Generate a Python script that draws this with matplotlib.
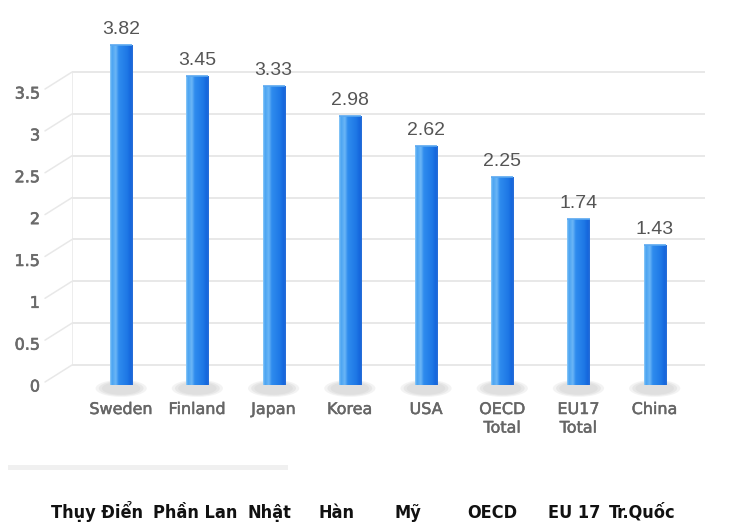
import numpy as np
import matplotlib
matplotlib.use("Agg")
import matplotlib.pyplot as plt
import matplotlib.patheffects as pe
from matplotlib.colors import LinearSegmentedColormap
from matplotlib.patches import Ellipse, Rectangle

countries = ["Sweden", "Finland", "Japan", "Korea", "USA",
             "OECD\nTotal", "EU17\nTotal", "China"]
values = [3.82, 3.45, 3.33, 2.98, 2.62, 2.25, 1.74, 1.43]
names_vi = ["Thụy Điển", "Phần Lan", "Nhật", "Hàn", "Mỹ",
            "OECD", "EU 17", "Tr.Quốc"]
yticks = [0, 0.5, 1, 1.5, 2, 2.5, 3, 3.5]
ytick_labels = ["0", "0.5", "1", "1.5", "2", "2.5", "3", "3.5"]

W, H = 738, 523
fig = plt.figure(figsize=(W / 100, H / 100), dpi=100)

# back plane: y=0 sits at 365 px from the top, 83.7 px per unit
ppu = 83.7
y0_px = H - 365
ymin, ymax = -0.8, 4.3
xmin, xmax = -0.645, 7.66
ax = fig.add_axes([72 / W, (y0_px + ymin * ppu) / H,
                   (705 - 72) / W, (ymax - ymin) * ppu / H])
ax.set_xlim(xmin, xmax)
ax.set_ylim(ymin, ymax)
ax.axis("off")

grid_c = "#e8e8e8"
ax.hlines(yticks, xmin, xmax, color=grid_c, lw=1.4, zorder=1)
ax.vlines(xmin, 0, 3.5, color=grid_c, lw=1.1, zorder=1)

# front-plane tick labels, joined to the back plane by short slanted lines
for v, lab in zip(yticks, ytick_labels):
    ax.annotate("", xy=(xmin, v), xytext=(-27, -17), textcoords="offset pixels",
                arrowprops=dict(arrowstyle="-", color=grid_c, lw=1.1,
                                shrinkA=0, shrinkB=0))
    ax.annotate(lab, xy=(xmin, v), xytext=(-32, -22), textcoords="offset pixels",
                ha="right", va="center", fontsize=11.5, color="#6a6a6a",
                family="DejaVu Sans",
                path_effects=[pe.withStroke(linewidth=0.45, foreground="#6a6a6a")])

depth = 20 / ppu          # bars come forward to the front baseline
bw = 22 / 76
grad = LinearSegmentedColormap.from_list(
    "bar", [(0, "#8fcaf8"), (0.08, "#4aa3f2"), (0.25, "#6cb7f6"),
            (0.38, "#2f8cee"), (0.75, "#1e78e6"), (0.92, "#1566dc"),
            (1, "#2a70d8")])
g = np.linspace(0, 1, 64).reshape(1, -1)

for i, v in enumerate(values):
    # soft shadow under each bar
    for k, a in zip([1.2, 1.05, 0.9], [0.3, 0.45, 0.6]):
        ax.add_patch(Ellipse((i, -depth - 0.04), 0.56 * k, 0.17 * k,
                             color="#dadada", alpha=a, lw=0, zorder=2))
    rect = Rectangle((i - bw / 2, -depth), bw, v + depth,
                     facecolor="none", edgecolor="none", zorder=3)
    ax.add_patch(rect)
    im = ax.imshow(g, cmap=grad, aspect="auto", zorder=3,
                   extent=(i - bw / 2, i + bw / 2, -depth, v),
                   interpolation="bilinear")
    im.set_clip_path(rect)
    ax.plot([i - bw / 2, i + bw / 2], [v, v], color="#5aa8f0", lw=1.2,
            zorder=4, solid_capstyle="butt")
    ax.annotate(f"{v:.2f}", xy=(i, v), xytext=(0, 11), textcoords="offset pixels",
                ha="center", va="baseline", fontsize=14, color="#555555",
                family="Liberation Sans")
    ax.annotate(countries[i], xy=(i, -depth), xytext=(0, -17),
                textcoords="offset pixels", ha="center", va="top",
                fontsize=11.5, color="#666666", family="DejaVu Sans",
                linespacing=1.3,
                path_effects=[pe.withStroke(linewidth=0.35, foreground="#666666")])

# shaded strip along the bottom edge of the chart panel
fig.patches.append(Rectangle((8 / W, 1 - 470 / H), 280 / W, 5 / H,
                             transform=fig.transFigure, color="#f0f0f0",
                             lw=0, zorder=0))

# Vietnamese names along the bottom
vi_x = [97, 195, 269, 336, 408, 492, 574, 642]
for x, name in zip(vi_x, names_vi):
    fig.text(x / W, 1 - 518 / H, name, ha="center", va="baseline",
             fontsize=13, fontweight="bold", color="#111111",
             family="Liberation Sans Narrow", fontstretch="condensed")

fig.savefig("out.png", dpi=100)
